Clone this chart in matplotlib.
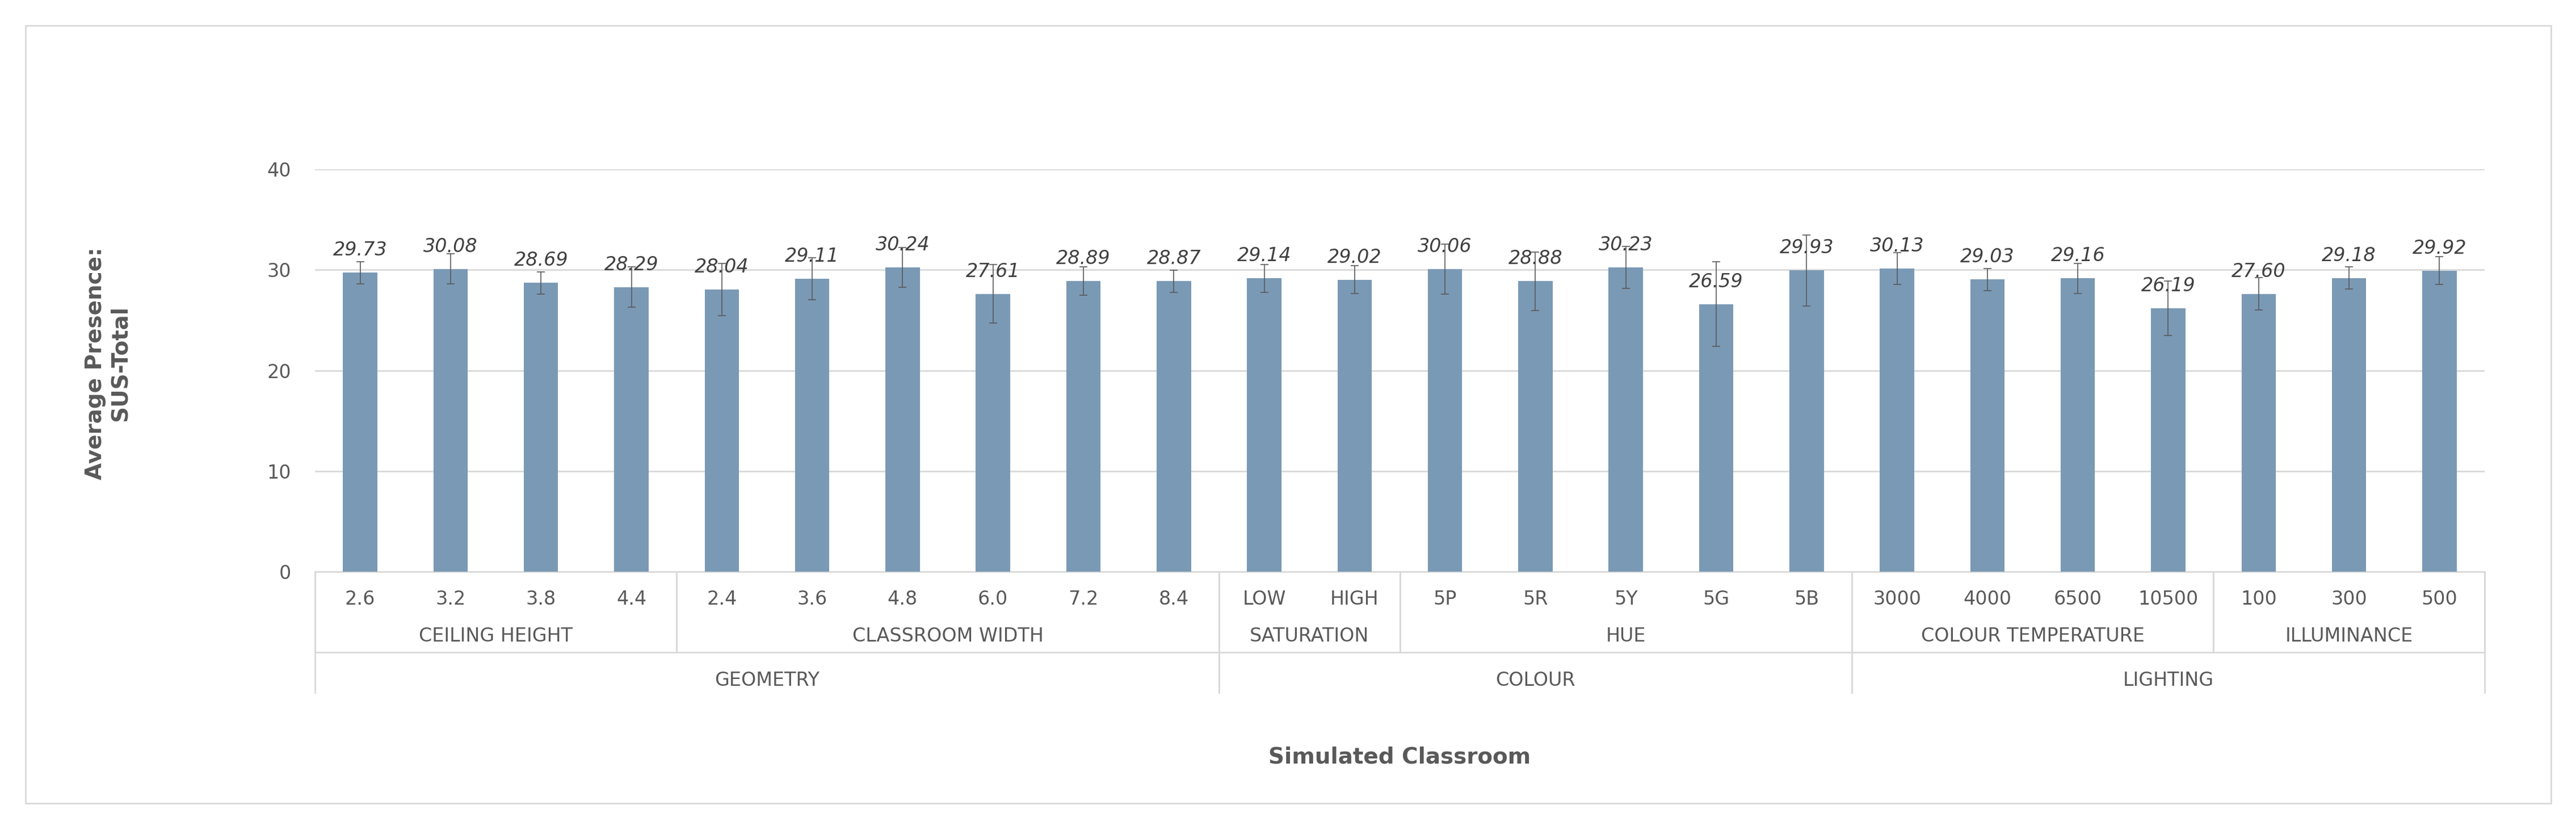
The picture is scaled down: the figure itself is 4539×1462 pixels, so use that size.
import matplotlib.pyplot as plt
from matplotlib.patches import Rectangle

labels = ["2.6", "3.2", "3.8", "4.4", "2.4", "3.6", "4.8", "6.0", "7.2", "8.4",
          "LOW", "HIGH", "5P", "5R", "5Y", "5G", "5B",
          "3000", "4000", "6500", "10500", "100", "300", "500"]
values = [29.73, 30.08, 28.69, 28.29, 28.04, 29.11, 30.24, 27.61, 28.89, 28.87,
          29.14, 29.02, 30.06, 28.88, 30.23, 26.59, 29.93,
          30.13, 29.03, 29.16, 26.19, 27.60, 29.18, 29.92]
errors = [1.1, 1.5, 1.1, 2.0, 2.6, 2.1, 2.0, 2.9, 1.4, 1.1,
          1.4, 1.4, 2.5, 2.9, 2.1, 4.2, 3.5,
          1.6, 1.1, 1.5, 2.7, 1.6, 1.1, 1.4]
subgroups = [("CEILING HEIGHT", 0, 3), ("CLASSROOM WIDTH", 4, 9), ("SATURATION", 10, 11),
             ("HUE", 12, 16), ("COLOUR TEMPERATURE", 17, 20), ("ILLUMINANCE", 21, 23)]
groups = [("GEOMETRY", 0, 9), ("COLOUR", 10, 16), ("LIGHTING", 17, 23)]

fig = plt.figure(figsize=(45.39, 14.62), dpi=100)
fig.patches.append(Rectangle((45 / 4539, 47 / 1462), 4450 / 4539, 1370 / 1462,
                             transform=fig.transFigure, fill=False,
                             edgecolor="#d9d9d9", lw=2))
ax = fig.add_axes([555 / 4539, 1 - 1007 / 1462, 3823 / 4539, 709 / 1462])

x = list(range(len(values)))
ax.bar(x, values, width=0.38, color="#7a99b5", zorder=3)
ax.errorbar(x, values, yerr=errors, fmt="none", ecolor="#595959", elinewidth=1.2,
            capsize=5, capthick=1.2, zorder=4)
for xi, v in zip(x, values):
    ax.text(xi, v + 1.3, f"{v:.2f}", ha="center", va="bottom", style="italic",
            fontsize=24, color="#404040", zorder=5)

ax.set_xlim(-0.5, len(values) - 0.5)
ax.set_ylim(0, 40)
ax.set_yticks([0, 10, 20, 30, 40])
ax.tick_params(axis="y", length=0, labelsize=24, labelcolor="#595959", pad=30)
ax.set_xticks([])
ax.yaxis.grid(True, color="#d9d9d9", lw=2, zorder=0)
for s in ["top", "right", "left"]:
    ax.spines[s].set_visible(False)
ax.spines["bottom"].set_color("#d9d9d9")
ax.spines["bottom"].set_linewidth(2)

tr = ax.get_xaxis_transform()
for xi, lab in zip(x, labels):
    ax.text(xi, -0.068, lab, transform=tr, ha="center", va="center",
            fontsize=24, color="#595959")
for name, a, b in subgroups:
    ax.text((a + b) / 2, -0.16, name, transform=tr, ha="center", va="center",
            fontsize=24, color="#595959")
for name, a, b in groups:
    ax.text((a + b) / 2, -0.27, name, transform=tr, ha="center", va="center",
            fontsize=24, color="#595959")

line_kw = dict(transform=tr, color="#d9d9d9", lw=2, clip_on=False)
for name, a, b in groups:
    for e in (a - 0.5, b + 0.5):
        ax.plot([e, e], [0, -0.3], **line_kw)
for name, a, b in subgroups:
    for e in (a - 0.5, b + 0.5):
        ax.plot([e, e], [0, -0.2], **line_kw)
ax.plot([-0.5, len(values) - 0.5], [-0.2, -0.2], **line_kw)

ax.text(0.5, -0.46, "Simulated Classroom", transform=ax.transAxes, ha="center",
        va="center", fontsize=28, fontweight="bold", color="#595959")
fig.text(190 / 4539, 1 - 640 / 1462, "Average Presence:\nSUS-Total", rotation=90,
         ha="center", va="center", fontsize=28, fontweight="bold", color="#595959")

fig.savefig("out.png", dpi=100)
